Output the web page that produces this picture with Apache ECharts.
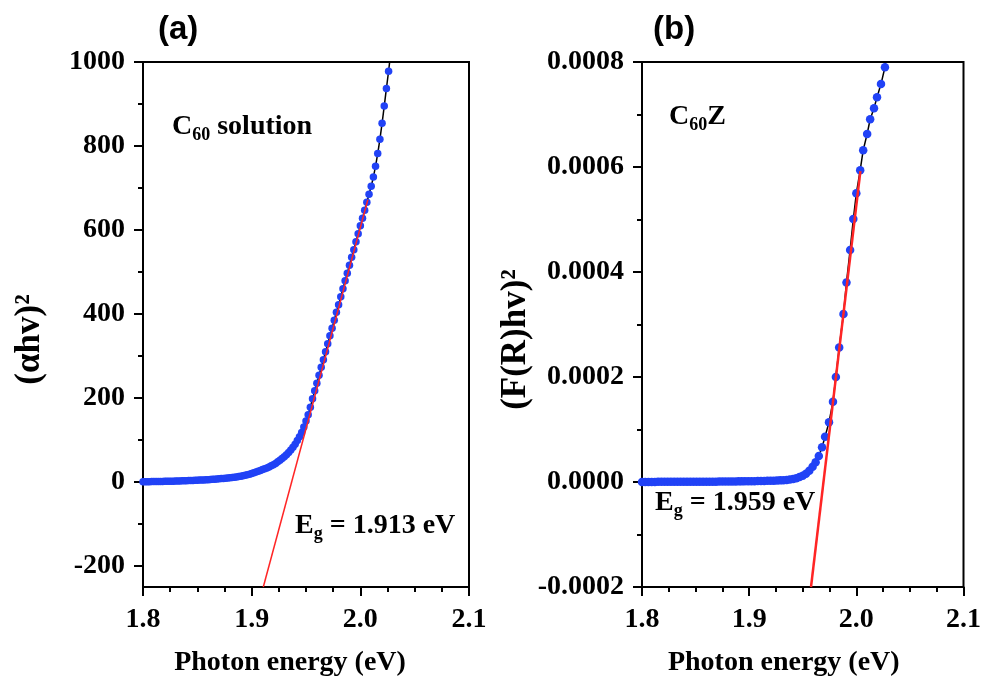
<!DOCTYPE html>
<html>
<head>
<meta charset="utf-8">
<script src="https://cdn.jsdelivr.net/npm/echarts@6/dist/echarts.min.js"></script>
<style>
  html, body { margin: 0; padding: 0; background: #fff; }
  #chart { width: 984px; height: 684px; }
</style>
</head>
<body>
<div id="chart"></div>
<script>
// panel (a): C60 solution, (alpha h v)^2 vs photon energy
const energyA = [
  1.800, 1.802, 1.804, 1.806, 1.808, 1.810, 1.812, 1.814, 1.816, 1.818,
  1.820, 1.822, 1.824, 1.826, 1.828, 1.830, 1.832, 1.834, 1.836, 1.838,
  1.840, 1.842, 1.844, 1.846, 1.848, 1.850, 1.852, 1.854, 1.856, 1.858,
  1.860, 1.862, 1.864, 1.866, 1.868, 1.870, 1.872, 1.874, 1.876, 1.878,
  1.880, 1.882, 1.884, 1.886, 1.888, 1.890, 1.892, 1.894, 1.896, 1.898,
  1.900, 1.902, 1.904, 1.906, 1.908, 1.910, 1.912, 1.914, 1.916, 1.918,
  1.920, 1.922, 1.924, 1.926, 1.928, 1.930, 1.932, 1.934, 1.936, 1.938,
  1.940, 1.942, 1.944, 1.946, 1.948, 1.950, 1.952, 1.954, 1.956, 1.958,
  1.960, 1.962, 1.964, 1.966, 1.968, 1.970, 1.972, 1.974, 1.976, 1.978,
  1.980, 1.982, 1.984, 1.986, 1.988, 1.990, 1.992, 1.994, 1.996, 1.998,
  2.000, 2.002, 2.004, 2.006, 2.008, 2.010, 2.012, 2.014, 2.016, 2.018,
  2.020, 2.022, 2.024, 2.026, 2.0275
];
const valueA = [
  0.5, 0.6, 0.7, 0.8, 0.9, 1.0, 1.1, 1.2, 1.3, 1.4,
  1.5, 1.6, 1.7, 1.9, 2.0, 2.2, 2.4, 2.6, 2.8, 3.0,
  3.2, 3.4, 3.6, 3.8, 4.0, 4.2, 4.5, 4.8, 5.0, 5.2,
  5.5, 5.9, 6.3, 6.7, 7.1, 7.6, 8.1, 8.6, 9.1, 9.5,
  10.0, 10.6, 11.3, 12.0, 12.8, 13.7, 14.7, 15.8, 17.0, 18.4,
  20.0, 22.0, 24.0, 25.8, 27.6, 29.5, 31.5, 33.5, 36.0, 38.5,
  41, 44, 48, 52, 56, 60, 65, 70, 76, 83,
  90, 99, 108, 118, 131, 145, 160, 178, 198, 217,
  235, 254, 273, 291, 310, 329, 348, 366, 385, 404,
  422, 441, 460, 479, 497, 516, 535, 553, 572, 591,
  610, 628, 647, 666, 685, 704, 726, 752, 782, 816,
  854, 895, 937, 978, 1012
];
const fitAx = [1.9107, 2.0069];
const fitAy = [-250, 672];
const yTicksA = [-200, 0, 200, 400, 600, 800, 1000];
const yMinorA = [-100, 100, 300, 500, 700, 900];

// panel (b): C60Z, (F(R) h v)^2 vs photon energy
const energyB = [
  1.800, 1.803, 1.806, 1.809, 1.812, 1.815, 1.818, 1.821, 1.824, 1.827,
  1.830, 1.833, 1.836, 1.839, 1.842, 1.845, 1.848, 1.851, 1.854, 1.857,
  1.860, 1.863, 1.866, 1.869, 1.872, 1.875, 1.878, 1.881, 1.884, 1.887,
  1.890, 1.893, 1.896, 1.899, 1.902, 1.905, 1.908, 1.911, 1.914, 1.917,
  1.920, 1.923, 1.926, 1.929, 1.932, 1.935, 1.938, 1.941, 1.944, 1.947,
  1.950, 1.953,
  1.9561, 1.9592, 1.9620, 1.9650, 1.9680, 1.9708, 1.9745, 1.9782, 1.9809, 1.9840,
  1.9880, 1.9908, 1.9942, 1.9972, 2.0000, 2.0036, 2.0064, 2.0101, 2.0129, 2.0165,
  2.0193, 2.0230, 2.0267, 2.0285
];
const valueB = [
  0.2e-6, 0.2e-6, 0.2e-6, 0.2e-6, 0.2e-6, 0.3e-6, 0.3e-6, 0.3e-6, 0.3e-6, 0.3e-6,
  0.3e-6, 0.3e-6, 0.4e-6, 0.4e-6, 0.4e-6, 0.4e-6, 0.5e-6, 0.5e-6, 0.5e-6, 0.6e-6,
  0.6e-6, 0.6e-6, 0.7e-6, 0.7e-6, 0.8e-6, 0.8e-6, 0.9e-6, 0.9e-6, 1.0e-6, 1.1e-6,
  1.2e-6, 1.2e-6, 1.3e-6, 1.4e-6, 1.5e-6, 1.6e-6, 1.7e-6, 1.9e-6, 2.0e-6, 2.2e-6,
  2.4e-6, 2.6e-6, 2.8e-6, 3.1e-6, 3.4e-6, 3.8e-6, 4.6e-6, 5.8e-6, 7.3e-6, 9.3e-6,
  12.0e-6, 15.5e-6,
  21.5e-6, 29.1e-6, 37.5e-6, 49.5e-6, 66.1e-6, 86.3e-6, 114e-6, 153e-6, 200e-6, 256e-6,
  320e-6, 380e-6, 442e-6, 501e-6, 550e-6, 594e-6, 632e-6, 663e-6, 691e-6, 712e-6,
  733e-6, 758e-6, 790e-6, 822e-6
];
const fitBx = [1.9577, 2.0038];
const fitBy = [-0.0002, 0.000592];

const FONT = 'Liberation Serif';
const BLUE = '#2142f6';
const RED = '#ff2525';

const chart = echarts.init(document.getElementById('chart'));

const tickText = { fontFamily: FONT, fontWeight: 'bold', fontSize: 28, color: '#000' };
const axisLineStyle = { color: '#000', width: 2 };

function energyAxis(gridIndex, shift) {
  return {
    gridIndex: gridIndex,
    type: 'value',
    min: 1.8,
    max: 2.1,
    interval: 0.1,
    axisLine: { onZero: false, lineStyle: axisLineStyle },
    axisTick: { length: 9, lineStyle: axisLineStyle },
    minorTick: { show: true, splitNumber: 4, length: 5, lineStyle: axisLineStyle },
    splitLine: { show: false },
    axisLabel: Object.assign({ margin: 19, formatter: v => v.toFixed(1) }, tickText),
    name: 'Photon energy (eV)',
    nameLocation: 'middle',
    nameGap: 62,
    // the title sits a little left of the axis centre
    nameTextStyle: Object.assign({ padding: [0, shift, 0, 0] }, tickText)
  };
}

function yTitle(size, shift) {
  return { fontFamily: FONT, fontWeight: 'bold', fontSize: size, color: '#000', padding: [0, shift, 0, 0] };
}

const rich = {
  b: { fontFamily: FONT, fontWeight: 'bold', fontSize: 28, lineHeight: 34, color: '#000' },
  s: { fontFamily: FONT, fontWeight: 'bold', fontSize: 18, lineHeight: 12, verticalAlign: 'bottom', color: '#000' }
};

const option = {
  animation: false,
  backgroundColor: '#fff',
  grid: [
    { left: 143, top: 62, width: 326, height: 525, show: true, borderColor: '#000', borderWidth: 2 },
    { left: 642, top: 62, width: 326, height: 525, show: true, borderColor: '#000', borderWidth: 2 }
  ],
  xAxis: [energyAxis(0, 32), energyAxis(1, 38)],
  yAxis: [
    {
      gridIndex: 0,
      type: 'value',
      position: 'left',
      min: -250,
      max: 1000,
      axisLine: { onZero: false, lineStyle: axisLineStyle },
      axisTick: { length: 9, lineStyle: axisLineStyle, customValues: yTicksA },
      splitLine: { show: false },
      axisLabel: Object.assign({ margin: 18, customValues: yTicksA, formatter: v => String(v) }, tickText),
      name: '(αhv)²',
      nameLocation: 'middle',
      nameGap: 96,
      nameTextStyle: yTitle(35, 30)
    },
    {
      // minor ticks for panel (a), since the axis starts at -250
      gridIndex: 0,
      type: 'value',
      position: 'left',
      min: -250,
      max: 1000,
      axisLine: { show: false, onZero: false },
      axisTick: { length: 5, lineStyle: axisLineStyle, customValues: yMinorA },
      splitLine: { show: false },
      axisLabel: { show: false }
    },
    {
      gridIndex: 1,
      type: 'value',
      position: 'left',
      min: -0.0002,
      max: 0.0008,
      interval: 0.0002,
      axisLine: { onZero: false, lineStyle: axisLineStyle },
      axisTick: { length: 9, lineStyle: axisLineStyle },
      minorTick: { show: true, splitNumber: 2, length: 5, lineStyle: axisLineStyle },
      splitLine: { show: false },
      axisLabel: Object.assign({ margin: 18, formatter: v => v.toFixed(4) }, tickText),
      name: '(F(R)hv)²',
      nameLocation: 'middle',
      nameGap: 92,
      nameTextStyle: yTitle(35, 30)
    }
  ],
  series: [
    {
      type: 'line',
      xAxisIndex: 0,
      yAxisIndex: 0,
      data: energyA.map((e, i) => [e, valueA[i]]),
      symbol: 'circle',
      symbolSize: 7.5,
      showAllSymbol: true,
      itemStyle: { color: BLUE },
      lineStyle: { color: '#000', width: 1.5 },
      clip: true,
      z: 2
    },
    {
      type: 'line',
      xAxisIndex: 0,
      yAxisIndex: 0,
      data: fitAx.map((e, i) => [e, fitAy[i]]),
      symbol: 'none',
      lineStyle: { color: RED, width: 1.5 },
      clip: true,
      z: 3
    },
    {
      type: 'line',
      xAxisIndex: 1,
      yAxisIndex: 2,
      data: energyB.map((e, i) => [e, valueB[i]]),
      symbol: 'circle',
      symbolSize: 8.5,
      showAllSymbol: true,
      itemStyle: { color: BLUE },
      lineStyle: { color: '#000', width: 1.5 },
      clip: true,
      z: 2
    },
    {
      type: 'line',
      xAxisIndex: 1,
      yAxisIndex: 2,
      data: fitBx.map((e, i) => [e, fitBy[i]]),
      symbol: 'none',
      lineStyle: { color: RED, width: 2.5 },
      clip: true,
      z: 3
    }
  ],
  graphic: [
    { type: 'text', left: 158, top: 13, style: { text: '(a)', fontFamily: 'Liberation Sans', fontWeight: 'bold', fontSize: 33, fill: '#000' } },
    { type: 'text', left: 653, top: 13, style: { text: '(b)', fontFamily: 'Liberation Sans', fontWeight: 'bold', fontSize: 33, fill: '#000' } },
    { type: 'text', left: 172, top: 113, style: { text: '{b|C}{s|60}{b| solution}', rich: rich } },
    { type: 'text', left: 669, top: 103, style: { text: '{b|C}{s|60}{b|Z}', rich: rich } },
    { type: 'text', left: 295, top: 512, style: { text: '{b|E}{s|g}{b| = 1.913 eV}', rich: rich } },
    { type: 'text', left: 655, top: 489, style: { text: '{b|E}{s|g}{b| = 1.959 eV}', rich: rich } }
  ]
};

chart.setOption(option);
</script>
</body>
</html>
